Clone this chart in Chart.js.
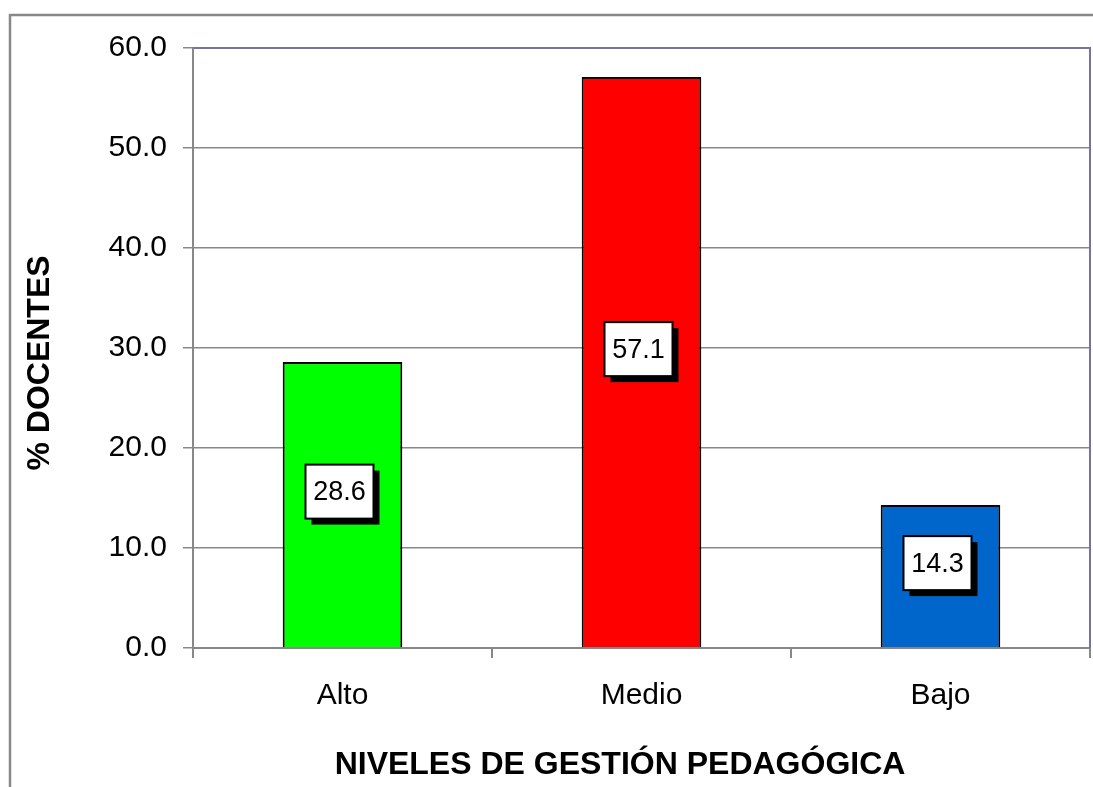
<!DOCTYPE html>
<html>
<head>
<meta charset="utf-8">
<script src="https://cdn.jsdelivr.net/npm/chart.js@4"></script>
<style>
  body { margin: 0; background: #fff; }
  #wrap { width: 1093px; height: 787px; position: relative; }
</style>
</head>
<body>
<div id="wrap"><canvas id="nivelesChart"></canvas></div>
<script>
const ctx = document.getElementById("nivelesChart");

// datos
const categories = ["Alto", "Medio", "Bajo"];
const values = [28.6, 57.1, 14.3];
const barColors = ["#00ff00", "#ff0000", "#0066cc"];
const yTicks = [0, 10, 20, 30, 40, 50, 60];
const xTitle = "NIVELES DE GESTIÓN PEDAGÓGICA";
const yTitle = "% DOCENTES";

const FONT = '"Liberation Sans", Arial, sans-serif';

// marco exterior, borde superior/derecho del área y títulos
const framePlugin = {
	id: "frame",
	beforeDraw(chart) {
		const c = chart.ctx;
		c.save();
		c.fillStyle = "#fff";
		c.fillRect(0, 0, chart.width, chart.height);
		c.strokeStyle = "#888";
		c.lineWidth = 2.5;
		c.beginPath();
		c.moveTo(10, chart.height);
		c.lineTo(10, 15);
		c.lineTo(chart.width, 15);
		c.stroke();
		c.restore();
	},
	afterDraw(chart) {
		const c = chart.ctx;
		const a = chart.chartArea;
		c.save();
		c.strokeStyle = "#7373a6";
		c.lineWidth = 2;
		c.beginPath();
		c.moveTo(a.left, a.top);
		c.lineTo(a.right, a.top);
		c.lineTo(a.right, a.bottom);
		c.stroke();

		c.fillStyle = "#000";
		c.font = "bold 32px " + FONT;
		c.textAlign = "center";
		c.textBaseline = "middle";
		c.fillText(xTitle, 620, 765);
		c.translate(40, 363);
		c.rotate(-Math.PI / 2);
		c.fillText(yTitle, 0, 0);
		c.restore();
	},
};

// etiquetas de valor con sombra
const labelPlugin = {
	id: "boxLabels",
	afterDatasetsDraw(chart) {
		const c = chart.ctx;
		const meta = chart.getDatasetMeta(0);
		c.save();
		meta.data.forEach((bar, i) => {
			const cx = bar.x - 3;
			const cy = (bar.y + bar.base) / 2 - 13;
			const w = 68, h = 54;
			c.fillStyle = "#000";
			c.fillRect(cx - w / 2 + 6, cy - h / 2 + 6, w, h);
			c.fillStyle = "#fff";
			c.fillRect(cx - w / 2, cy - h / 2, w, h);
			c.strokeStyle = "#000";
			c.lineWidth = 2;
			c.strokeRect(cx - w / 2, cy - h / 2, w, h);
			c.fillStyle = "#000";
			c.font = "27px " + FONT;
			c.textAlign = "center";
			c.textBaseline = "middle";
			c.fillText(values[i].toFixed(1), cx, cy + 1);
		});
		c.restore();
	},
};

const myChart = new Chart(ctx, {
	type: "bar",
	data: {
		labels: categories,
		datasets: [
			{
				data: values,
				backgroundColor: barColors,
				borderColor: "#000",
				borderWidth: 2,
				barPercentage: 0.4,
				categoryPercentage: 1.0,
			},
		],
	},
	options: {
		responsive: true,
		maintainAspectRatio: false,
		animation: false,
		layout: { padding: { top: 48, right: 3, left: 0, bottom: 0 } },
		plugins: {
			legend: { display: false },
			tooltip: { enabled: false },
		},
		scales: {
			x: {
				offset: true,
				afterFit(scale) { scale.height = 139; },
				grid: {
					offset: true,
					drawOnChartArea: false,
					drawTicks: true,
					tickLength: 10,
					color: "#888",
					lineWidth: 2,
				},
				border: { color: "#888", width: 2 },
				ticks: {
					color: "#000",
					padding: 20,
					font: { family: FONT, size: 30 },
				},
			},
			y: {
				min: 0,
				max: 60,
				afterFit(scale) { scale.width = 193; },
				afterBuildTicks(scale) {
					scale.ticks = yTicks.map(v => ({ value: v }));
				},
				grid: {
					color: "#888",
					lineWidth: 1.5,
					drawTicks: true,
					tickLength: 10,
				},
				border: { color: "#888", width: 2 },
				ticks: {
					color: "#000",
					padding: 16,
					font: { family: FONT, size: 30 },
					callback: v => v.toFixed(1),
				},
			},
		},
	},
	plugins: [framePlugin, labelPlugin],
});
</script>
</body>
</html>
